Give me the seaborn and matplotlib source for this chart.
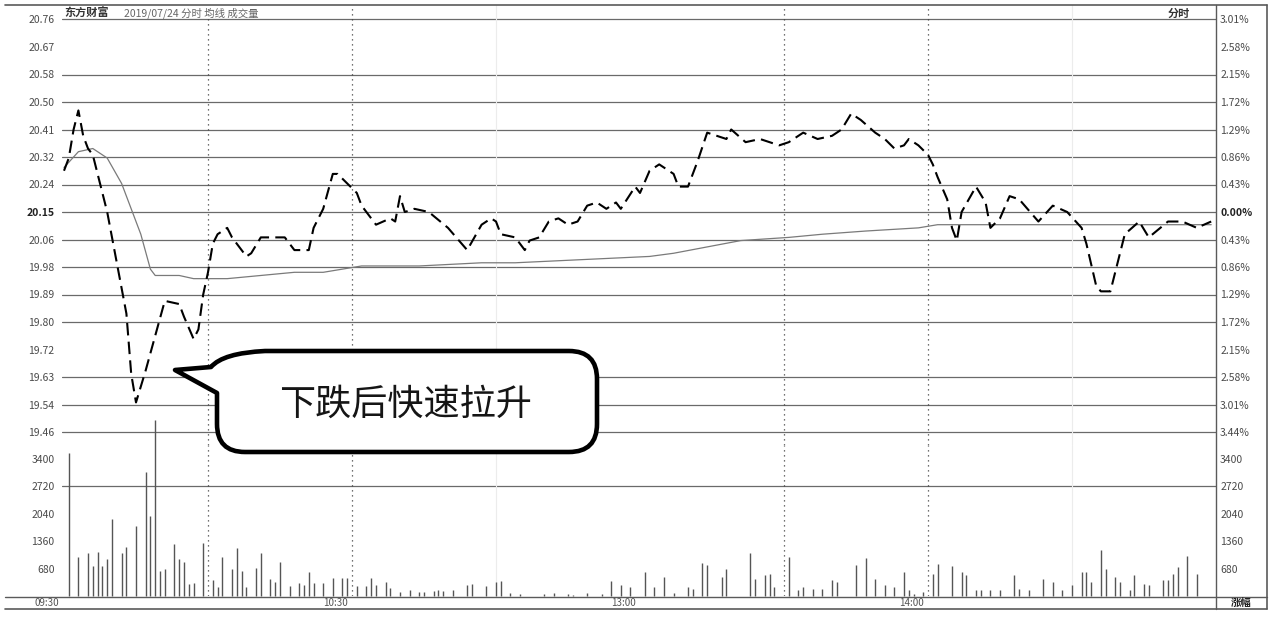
import pandas as pd
import seaborn as sns
import matplotlib.pyplot as plt
import matplotlib.transforms as mtransforms
from matplotlib.path import Path
from matplotlib.patches import PathPatch

# ---- data ----
prev_close = 20.15
level_pct = 0.43          # percent per grid row

price_min = [0, 1, 2, 3, 4, 5, 6, 9, 11, 13, 14, 15, 17, 19, 21, 24, 25, 27, 28, 29,
             30, 31, 32, 34, 35, 38, 39, 41, 42, 46, 48, 51, 52, 54, 56, 57, 59, 61, 62, 63,
             65, 68, 69, 70, 71, 73, 76, 80, 84, 87, 89, 90, 91, 94, 96, 97, 99, 101, 103, 105,
             107, 109, 111, 113, 115, 116, 119, 120, 122, 124, 127, 128, 130, 132, 134, 136, 138, 139, 142, 145,
             149, 151, 154, 157, 160, 162, 164, 166, 169, 171, 173, 175, 176, 178, 180, 181, 182, 184, 185, 186,
             187, 190, 192, 193, 195, 197, 199, 203, 206, 209, 212, 213, 215, 216, 218, 221, 224, 226, 230, 233,
             236, 239]
price_val = [20.28, 20.32, 20.41, 20.47, 20.39, 20.35, 20.33, 20.15, 19.99, 19.83, 19.64, 19.55, 19.65, 19.76, 19.87, 19.86, 19.82, 19.75, 19.78, 19.89,
             19.96, 20.05, 20.08, 20.10, 20.07, 20.01, 20.02, 20.07, 20.07, 20.07, 20.03, 20.03, 20.10, 20.16, 20.27, 20.27, 20.24, 20.21, 20.17, 20.15,
             20.11, 20.13, 20.12, 20.20, 20.15, 20.16, 20.15, 20.10, 20.03, 20.11, 20.13, 20.12, 20.08, 20.07, 20.03, 20.06, 20.07, 20.12, 20.13, 20.11,
             20.12, 20.17, 20.18, 20.16, 20.18, 20.16, 20.23, 20.21, 20.28, 20.30, 20.27, 20.23, 20.23, 20.31, 20.40, 20.39, 20.38, 20.41, 20.37, 20.38,
             20.36, 20.37, 20.40, 20.38, 20.39, 20.41, 20.46, 20.44, 20.40, 20.38, 20.35, 20.36, 20.38, 20.36, 20.33, 20.30, 20.26, 20.19, 20.10, 20.06,
             20.15, 20.23, 20.18, 20.10, 20.13, 20.20, 20.19, 20.12, 20.17, 20.15, 20.10, 20.05, 19.92, 19.90, 19.90, 20.08, 20.12, 20.07, 20.12, 20.12,
             20.10, 20.12]

avg_min = [0, 3, 6, 9, 12, 14, 16, 18, 19, 24, 27, 30, 34, 41, 48, 54, 58, 62, 74, 87,
           94, 108, 122, 127, 134, 141, 151, 158, 167, 178, 182, 203, 217, 239]
avg_val = [20.29, 20.34, 20.35, 20.32, 20.24, 20.16, 20.08, 19.97, 19.95, 19.95, 19.94, 19.94, 19.94, 19.95, 19.96, 19.96, 19.97, 19.98, 19.98, 19.99,
           19.99, 20.00, 20.01, 20.02, 20.04, 20.06, 20.07, 20.08, 20.09, 20.10, 20.11, 20.11, 20.11, 20.11]

vol_min = [1, 3, 5, 6, 7, 8, 9, 10, 12, 13, 15, 17, 18, 19, 20, 21, 23, 24, 25, 26,
           27, 29, 31, 32, 33, 35, 36, 37, 38, 40, 41, 43, 44, 45, 47, 49, 50, 51, 52, 54,
           56, 58, 59, 61, 63, 64, 65, 67, 68, 70, 72, 74, 75, 77, 78, 79, 81, 84, 85, 88,
           90, 91, 93, 95, 100, 102, 105, 106, 109, 112, 114, 116, 118, 121, 123, 125, 127, 130, 131, 133,
           134, 137, 138, 143, 144, 146, 147, 148, 151, 153, 154, 156, 158, 160, 161, 165, 167, 169, 171, 173,
           175, 176, 177, 179, 181, 182, 185, 187, 188, 190, 191, 193, 195, 198, 199, 201, 204, 206, 208, 210,
           212, 213, 214, 216, 217, 219, 220, 222, 223, 225, 226, 229, 230, 231, 232, 234, 236]
vol_val = [3560, 971, 1071, 747, 1096, 747, 921, 1917, 1071, 1220, 1743, 3088, 1992, 4358, 622, 672, 1295, 921, 847, 299,
           324, 1320, 398, 224, 971, 672, 1195, 622, 224, 697, 1071, 423, 349, 847, 249, 324, 274, 598, 324, 324,
           448, 448, 448, 249, 249, 448, 274, 349, 199, 100, 149, 100, 100, 125, 149, 125, 149, 274, 299, 249,
           349, 374, 75, 50, 50, 75, 50, 25, 75, 50, 374, 274, 224, 598, 224, 473, 75, 224, 174, 822,
           772, 473, 672, 1071, 423, 523, 548, 224, 971, 149, 224, 174, 174, 398, 349, 772, 946, 423, 274, 224,
           598, 149, 50, 100, 548, 797, 747, 598, 523, 149, 149, 149, 149, 523, 174, 149, 423, 349, 149, 274,
           598, 598, 349, 1145, 672, 473, 349, 149, 523, 299, 274, 398, 398, 548, 722, 996, 548]

vol_ticks = [680, 1360, 2040, 2720, 3400]
time_min = [0, 60, 120, 180]
time_labels = ["09:30", "10:30", "13:00", "14:00"]

header = "东方财富"
header_sub = "2019/07/24 分时 均线 成交量"
callout = "下跌后快速拉升"


def main() -> None:
    sns.set_style("white")
    plt.rcParams["font.family"] = ["Noto Sans CJK SC", "DejaVu Sans"]

    W, H = 1282, 620
    fig = plt.figure(figsize=(W / 100, H / 100), dpi=100)

    def box(x0, y0, x1, y1):
        return [x0 / W, 1 - y1 / H, (x1 - x0) / W, (y1 - y0) / H]

    ax_p = fig.add_axes(box(61.6, 5, 1216, 445))
    ax_v = fig.add_axes(box(61.6, 445, 1216, 596))

    step = prev_close * level_pct / 100
    row_px = 27.5
    ax_p.set_ylim(prev_close - (445 - 212) / row_px * step,
                  prev_close + (212 - 5) / row_px * step)
    ax_p.set_xlim(-0.5, 240)
    ax_v.set_xlim(-0.5, 240)
    ax_v.set_ylim(0, (596 - 445) * 3400 / (596 - 459))

    rows = list(range(-8, 8))
    levels = [prev_close + i * step for i in rows]
    for i, lv in zip(rows, levels):
        if i in (6, -5):
            continue
        ax_p.axhline(lv, color="#6a6a6a", lw=0.9, zorder=1)
    ax_v.axhline(2720, color="#6a6a6a", lw=0.9, zorder=1)

    for ax in (ax_p, ax_v):
        for m in (30, 60, 150, 180):
            ax.axvline(m, color="#444444", lw=0.9, ls=(0, (1, 3)), zorder=1)
        for m in (90, 210):
            ax.axvline(m, color="#ececec", lw=0.8, zorder=1)
        for s in ax.spines.values():
            s.set_visible(False)
        ax.set_xticks([])

    # price + average
    sns.lineplot(x=avg_min, y=avg_val, ax=ax_p, color="#7a7a7a", lw=0.9, zorder=3)
    sns.lineplot(x=price_min, y=price_val, ax=ax_p, color="black", lw=1.5,
                 ls=(0, (6, 3)), zorder=4)
    ax_p.set_xlabel("")
    ax_p.set_ylabel("")

    # volume
    ax_v.vlines(vol_min, 0, vol_val, color="#555555", lw=1.0, clip_on=False, zorder=3)

    # tick labels
    lab = dict(labelsize=7.5, labelcolor="#4a4a4a", length=0)
    ax_p.set_yticks(levels)
    ax_p.set_yticklabels([f"{p:.2f}" for p in levels])
    ax_p.tick_params(axis="y", pad=5, **lab)
    axr = ax_p.twinx()
    axr.set_ylim(ax_p.get_ylim())
    axr.set_yticks(levels)
    axr.set_yticklabels([f"{abs(i) * level_pct:.2f}%" for i in rows])
    axr.tick_params(axis="y", pad=3, **lab)
    for t, i in zip(ax_p.get_yticklabels() + axr.get_yticklabels(), rows + rows):
        if i == 0:
            t.set_fontweight("bold")
            t.set_color("#222222")
    for s in axr.spines.values():
        s.set_visible(False)

    ax_v.set_yticks(vol_ticks)
    ax_v.set_yticklabels([str(v) for v in vol_ticks])
    ax_v.tick_params(axis="y", pad=5, **lab)
    axvr = ax_v.twinx()
    axvr.set_ylim(ax_v.get_ylim())
    axvr.set_yticks(vol_ticks)
    axvr.set_yticklabels([str(v) for v in vol_ticks])
    axvr.tick_params(axis="y", pad=3, **lab)
    for s in axvr.spines.values():
        s.set_visible(False)

    trans = mtransforms.blended_transform_factory(ax_v.transData, ax_v.transAxes)
    for m, t in zip(time_min, time_labels):
        ax_v.text(m - 3.5, -0.045, t, transform=trans, ha="center", va="center",
                  fontsize=7, color="#555555")

    # overlay: frame, header, callout bubble
    ov = fig.add_axes([0, 0, 1, 1], zorder=10)
    ov.set_xlim(0, W)
    ov.set_ylim(H, 0)
    ov.axis("off")
    fc = "#5a5a5a"
    ov.plot([5, 1267], [5, 5], color=fc, lw=1.2)
    ov.plot([5, 1267], [596.5, 596.5], color=fc, lw=1.0)
    ov.plot([5, 1267], [609, 609], color=fc, lw=1.2)
    ov.plot([1215.5, 1215.5], [5, 609], color=fc, lw=1.0)
    ov.plot([1267, 1267], [5, 609], color=fc, lw=1.2)
    ov.text(64, 13, header, fontsize=8, fontweight="bold", color="#333333", va="center")
    ov.text(124, 13, header_sub, fontsize=7.5, color="#666666", va="center")
    ov.text(1168, 13, "分时", fontsize=8, fontweight="bold", color="#333333", va="center")
    ov.text(1241, 603, "涨幅", fontsize=7.5, fontweight="bold", color="#222222",
            ha="center", va="center")

    L, T, R, B, r = 217, 351, 597, 452, 28
    verts = [(175, 370), (L, 393), (L, B - r), (L, B), (L + r, B), (R - r, B),
             (R, B), (R, B - r), (R, T + r), (R, T), (R - r, T), (L + 48, T),
             (L + 6, T + 2), (211, 367), (175, 370), (175, 370)]
    codes = [Path.MOVETO, Path.LINETO, Path.LINETO, Path.CURVE3, Path.CURVE3, Path.LINETO,
             Path.CURVE3, Path.CURVE3, Path.LINETO, Path.CURVE3, Path.CURVE3, Path.LINETO,
             Path.CURVE3, Path.CURVE3, Path.LINETO, Path.CLOSEPOLY]
    ov.add_patch(PathPatch(Path(verts, codes), facecolor="white", edgecolor="black",
                           lw=3.3, joinstyle="round"))
    ov.text((L + R) / 2 - 2, 405, callout, fontsize=26, color="#151515",
            ha="center", va="center")

    fig.savefig("out.png", dpi=100)
    plt.close(fig)


if __name__ == "__main__":
    main()
